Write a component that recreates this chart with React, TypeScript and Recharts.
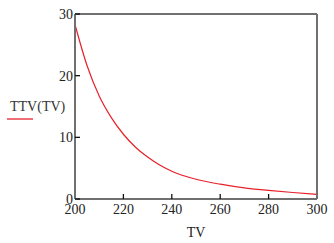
import { LineChart, Line, XAxis, YAxis, Label } from 'recharts';

// TV sample points and TTV(TV) values
const tvValues = [200, 205, 210, 215, 220, 225, 230, 235, 240, 250, 260, 270, 280, 290, 300];
const ttvValues = [28.3, 21.6, 16.7, 13.2, 10.5, 8.4, 6.8, 5.5, 4.5, 3.2, 2.4, 1.8, 1.4, 1.05, 0.75];

const xTicks = [200, 220, 240, 260, 280, 300];
const yTicks = [0, 10, 20, 30];

const seriesName = 'TTV(TV)';
const xTitle = 'TV';

const data = tvValues.map((tv, i) => ({ tv, ttv: ttvValues[i] }));

const font = { fill: '#222', fontSize: 14, fontFamily: 'Liberation Serif, Times New Roman, serif' };
const frame = { stroke: '#707070', strokeWidth: 2 };
const tickLine = { stroke: '#111', strokeWidth: 1.3 };
const red = '#e8202a';

const App = () => {
  return (
    <div style={{ position: 'absolute', left: 0, top: 0, width: 334, height: 243, background: '#fff' }}>
      <LineChart width={334} height={243} data={data} margin={{ top: 13, right: 16, bottom: 0, left: 0 }}>
        <XAxis
          dataKey="tv"
          type="number"
          domain={[200, 300]}
          ticks={xTicks}
          height={44}
          tickSize={-5}
          tickMargin={10}
          tick={font}
          axisLine={frame}
          tickLine={tickLine}
        >
          <Label value={xTitle} position="insideBottom" offset={6} style={{ ...font, fill: '#222' }} />
        </XAxis>
        <XAxis
          xAxisId="top"
          orientation="top"
          type="number"
          domain={[200, 300]}
          ticks={xTicks}
          height={1}
          tickSize={-5}
          tick={false}
          axisLine={frame}
          tickLine={tickLine}
        />
        <YAxis
          type="number"
          domain={[0, 30]}
          ticks={yTicks}
          width={75}
          tickSize={-5}
          tickMargin={7}
          tick={font}
          axisLine={frame}
          tickLine={tickLine}
        />
        <YAxis
          yAxisId="right"
          orientation="right"
          type="number"
          domain={[0, 30]}
          ticks={yTicks}
          width={1}
          tickSize={-5}
          tick={false}
          axisLine={frame}
          tickLine={tickLine}
        />
        <Line
          type="monotone"
          dataKey="ttv"
          name={seriesName}
          stroke={red}
          strokeWidth={1.2}
          dot={false}
          isAnimationActive={false}
        />
      </LineChart>
      {/* legend sits left of the plot, like the original */}
      <div
        style={{
          position: 'absolute',
          left: 10,
          top: 100,
          fontFamily: font.fontFamily,
          fontSize: 14,
          color: '#333',
          lineHeight: '14px',
          whiteSpace: 'nowrap',
        }}
      >
        <div>{seriesName}</div>
        <svg width={30} height={8} style={{ display: 'block', marginLeft: -3, marginTop: 1 }}>
          <line x1={0} y1={4} x2={26} y2={4} stroke={red} strokeWidth={1.3} />
        </svg>
      </div>
    </div>
  );
};

export default App;
